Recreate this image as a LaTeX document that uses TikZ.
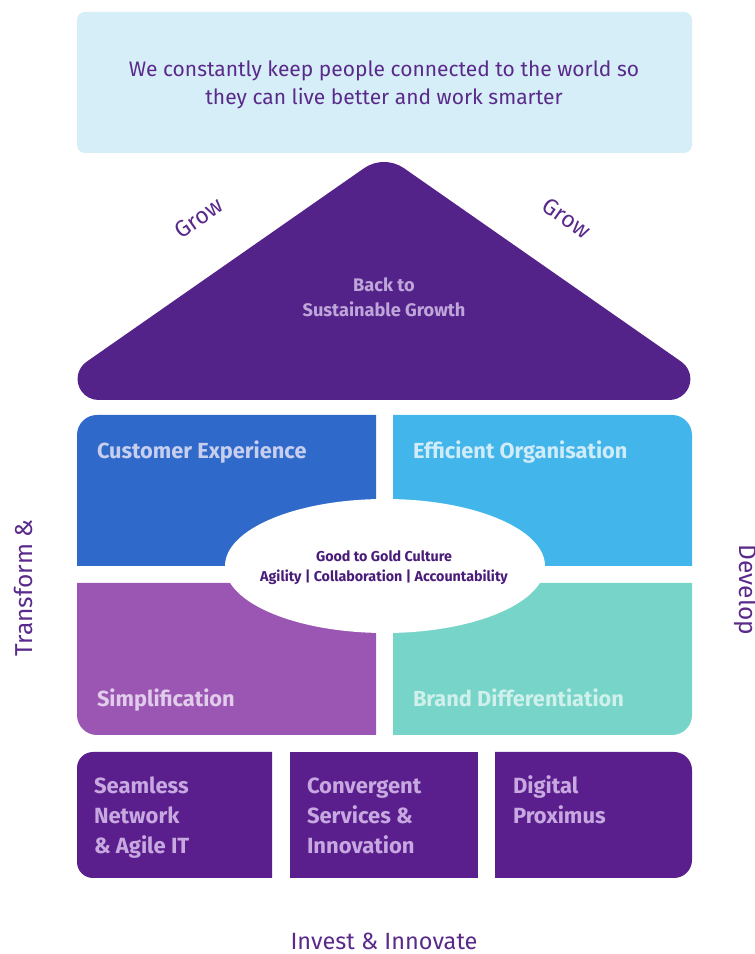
\documentclass[tikz,border=0pt]{standalone}
\usepackage{fontspec}
\setmainfont{Fira Sans}
\usetikzlibrary{shapes.geometric}
\definecolor{topbg}{HTML}{D6EEF8}
\definecolor{ptext}{HTML}{5A2A8A}
\definecolor{roofc}{HTML}{54238A}
\definecolor{custc}{HTML}{2F6ACB}
\definecolor{effc}{HTML}{42B5EA}
\definecolor{simpc}{HTML}{9A56B2}
\definecolor{brandc}{HTML}{77D4C9}
\definecolor{basec}{HTML}{5A1F8D}
\definecolor{rooft}{HTML}{BFA6DA}
\definecolor{custt}{HTML}{C8CFEE}
\definecolor{efft}{HTML}{D0ECF9}
\definecolor{simpt}{HTML}{E2CCEB}
\definecolor{brandt}{HTML}{CFF0EB}
\definecolor{baset}{HTML}{C7A8E0}
\definecolor{ellt}{HTML}{4A1C7A}
\newcommand{\fsz}[1]{\fontsize{#1}{#1}\selectfont}
\begin{document}
\begin{tikzpicture}[x=1pt,y=1pt,
  every node/.style={inner sep=0pt,outer sep=0pt},
  quadlabel/.style={anchor=base west,font=\bfseries\fsz{21.8}},
  baselabel/.style={anchor=base west,font=\bfseries\fsz{22},text=baset,align=left},
  sidelabel/.style={font=\fsz{23.5},text=ptext},
  ]
\useasboundingbox (0,0) rectangle (755,954);
% top banner
\fill[topbg,rounded corners=8pt] (77,801) rectangle (692,942);
\node[font=\fsz{21},text=ptext,anchor=base] (mission1) at (384,877) {We constantly keep people connected to the world so};
\node[font=\fsz{21},text=ptext,anchor=base] (mission2) at (384,849) {they can live better and work smarter};
% roof
\fill[roofc] (98.6,554) -- (669.4,554) arc[start angle=-90,end angle=55,radius=21]
  -- (404.1,785.7) arc[start angle=55,end angle=125,radius=35]
  -- (86.5,592.2) arc[start angle=125,end angle=270,radius=21] -- cycle;
\node[font=\bfseries\fsz{18.2},text=rooft,anchor=base] (roof1) at (384,662) {Back to};
\node[font=\bfseries\fsz{18.2},text=rooft,anchor=base] (roof2) at (384,637) {Sustainable Growth};
\node[font=\fsz{23},text=ptext,rotate=35] (growl) at (199,736) {Grow};
\node[font=\fsz{23},text=ptext,rotate=-35] (growr) at (567,736) {Grow};
% quadrants
\fill[custc] (376,388) -- (77,388) -- (77,519) arc[start angle=180,end angle=90,radius=20] -- (376,539) -- cycle;
\fill[effc] (393,388) -- (393,539) -- (672,539) arc[start angle=90,end angle=0,radius=20] -- (692,388) -- cycle;
\fill[simpc] (376,371) -- (77,371) -- (77,239) arc[start angle=180,end angle=270,radius=20] -- (376,219) -- cycle;
\fill[brandc] (393,371) -- (692,371) -- (692,239) arc[start angle=0,end angle=-90,radius=20] -- (393,219) -- cycle;
\node[quadlabel,text=custt] (cust) at (97,495.5) {Customer Experience};
\node[quadlabel,text=efft] (eff) at (413,495.5) {Efficient Organisation};
\node[quadlabel,text=simpt] (simp) at (97,247) {Simplification};
\node[quadlabel,text=brandt] (brand) at (413,247) {Brand Differentiation};
% culture ellipse
\node[ellipse,fill=white,minimum width=320pt,minimum height=134pt] (culture) at (385,388) {};
\node[font=\bfseries\fsz{14.3},text=ellt,anchor=base] (cult1) at (384,392) {Good to Gold Culture};
\node[font=\bfseries\fsz{14.3},text=ellt,anchor=base] (cult2) at (384,372) {Agility | Collaboration | Accountability};
% foundation boxes
\fill[basec] (272,76) -- (93,76) arc[start angle=270,end angle=180,radius=16] -- (77,186) arc[start angle=180,end angle=90,radius=16] -- (272,202) -- cycle;
\fill[basec] (290,76) rectangle (478,202);
\fill[basec] (495,76) -- (495,202) -- (674,202) arc[start angle=90,end angle=0,radius=18] -- (692,94) arc[start angle=0,end angle=-90,radius=18] -- cycle;
\node[baselabel] (seam1) at (94,160.5) {Seamless};
\node[baselabel] (seam2) at (94,130.5) {Network};
\node[baselabel] (seam3) at (94,100.5) {\& Agile IT};
\node[baselabel] (conv1) at (307,160.5) {Convergent};
\node[baselabel] (conv2) at (307,130.5) {Services \&};
\node[baselabel] (conv3) at (307,100.5) {Innovation};
\node[baselabel] (dig1) at (513,160.5) {Digital};
\node[baselabel] (dig2) at (513,130.5) {Proximus};
% side labels
\node[sidelabel,anchor=base] (invest) at (384,5) {Invest \& Innovate};
\node[font=\fsz{24.5},text=ptext,rotate=90] (transform) at (23,366) {Transform \&};
\node[font=\fsz{24.5},text=ptext,rotate=-90] (develop) at (746,364) {Develop};
\end{tikzpicture}
\end{document}
